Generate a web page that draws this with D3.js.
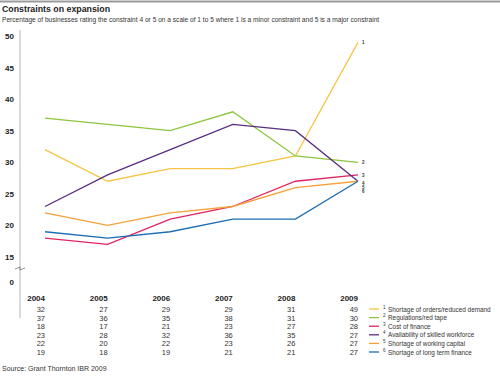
<!DOCTYPE html>
<html lang="en">
<head>
  <meta charset="UTF-8" />
  <title>Constraints on expansion</title>
  <script src="https://d3js.org/d3.v7.min.js"></script>
  <style>
    body {
      margin: 0;
      background: white;
      font-family: "Liberation Sans", Arial, sans-serif;
    }
    svg { display: block; }
  </style>
</head>
<body>
  <div id="chart"></div>

  <script>
    // Data
    const years = ["2004", "2005", "2006", "2007", "2008", "2009"];
    const seriesNames = [
      "Shortage of orders/reduced demand",
      "Regulations/red tape",
      "Cost of finance",
      "Availability of skilled workforce",
      "Shortage of working capital",
      "Shortage of long term finance"
    ];
    const orders = [32, 27, 29, 29, 31, 49];
    const regulations = [37, 36, 35, 38, 31, 30];
    const costFinance = [18, 17, 21, 23, 27, 28];
    const skilled = [23, 28, 32, 36, 35, 27];
    const workingCapital = [22, 20, 22, 23, 26, 27];
    const longTerm = [19, 18, 19, 21, 21, 27];
    const yTicks = [0, 15, 20, 25, 30, 35, 40, 45, 50];

    const colors = ["#f6c544", "#8cc63e", "#e0245f", "#5a2d82", "#f6a03a", "#1c6db4"];
    const allSeries = [orders, regulations, costFinance, skilled, workingCapital, longTerm];

    const width = 500, height = 376;
    const svg = d3.select("#chart").append("svg")
      .attr("width", width).attr("height", height);

    // top rule
    svg.append("line")
      .attr("x1", 0).attr("x2", width)
      .attr("y1", 1.5).attr("y2", 1.5)
      .attr("stroke", "#9a9a9a").attr("stroke-width", 2);

    svg.append("text")
      .attr("x", 2).attr("y", 12)
      .attr("font-size", 8.8).attr("font-weight", "bold").attr("fill", "#222")
      .text("Constraints on expansion");

    svg.append("text")
      .attr("x", 2).attr("y", 22)
      .attr("font-size", 6.6).attr("fill", "#333")
      .text("Percentage of businesses rating the constraint 4 or 5 on a scale of 1 to 5 where 1 is a minor constraint and 5 is a major constraint");

    // scales (broken axis between 0 and 15)
    const x = d3.scalePoint().domain(years).range([45, 358]);
    const y = d3.scaleLinear().domain([0, 15, 50]).range([282, 257, 36]);

    // axis line
    svg.append("line")
      .attr("x1", 20).attr("x2", 20)
      .attr("y1", 30).attr("y2", 318)
      .attr("stroke", "#b5b5b5").attr("stroke-width", 1);

    // axis break marker
    svg.append("path")
      .attr("d", "M15,269 L20,267 L20,270 L25,268")
      .attr("fill", "none").attr("stroke", "#777").attr("stroke-width", 0.8);

    const yAxis = svg.append("g")
      .attr("transform", "translate(20,0)")
      .call(d3.axisLeft(y).tickValues(yTicks).tickSize(0).tickPadding(6));
    yAxis.select(".domain").remove();
    yAxis.selectAll("text")
      .attr("font-family", "Liberation Sans, Arial, sans-serif")
      .attr("font-size", 8).attr("font-weight", "bold").attr("fill", "#222");

    // lines
    const line = d3.line()
      .x((d, i) => x(years[i]))
      .y(d => y(d));

    allSeries.forEach((s, k) => {
      svg.append("path")
        .datum(s)
        .attr("fill", "none")
        .attr("stroke", colors[k])
        .attr("stroke-width", 1.3)
        .attr("d", line);
    });

    // end labels
    const endOffsets = [0, 0, 0, 1.6, 5.6, 9.6];
    allSeries.forEach((s, k) => {
      svg.append("text")
        .attr("x", x(years[5]) + 4)
        .attr("y", y(s[5]) + 2 + endOffsets[k])
        .attr("font-size", 4.5).attr("font-weight", "bold").attr("fill", "#333")
        .text(k + 1);
    });

    // year labels
    svg.selectAll(".year")
      .data(years)
      .enter()
      .append("text")
      .attr("x", d => x(d))
      .attr("y", 301)
      .attr("text-anchor", "end")
      .attr("font-size", 8).attr("font-weight", "bold").attr("fill", "#222")
      .text(d => d);

    // data table
    allSeries.forEach((s, k) => {
      svg.selectAll(".row" + k)
        .data(s)
        .enter()
        .append("text")
        .attr("x", (d, i) => x(years[i]))
        .attr("y", 312 + k * 8.6)
        .attr("text-anchor", "end")
        .attr("font-size", 7.5).attr("fill", "#333")
        .text(d => d);
    });

    // legend
    seriesNames.forEach((name, k) => {
      const ly = 309 + k * 8.6;
      svg.append("line")
        .attr("x1", 369).attr("x2", 379)
        .attr("y1", ly).attr("y2", ly)
        .attr("stroke", colors[k]).attr("stroke-width", 1.3);
      svg.append("text")
        .attr("x", 383).attr("y", ly - 0.5)
        .attr("font-size", 4.5).attr("fill", "#333")
        .text(k + 1);
      svg.append("text")
        .attr("x", 388).attr("y", ly + 2.5)
        .attr("font-size", 6.4).attr("fill", "#333")
        .text(name);
    });

    svg.append("text")
      .attr("x", 2).attr("y", 371)
      .attr("font-size", 7).attr("fill", "#333")
      .text("Source: Grant Thornton IBR 2009");
  </script>
</body>
</html>
